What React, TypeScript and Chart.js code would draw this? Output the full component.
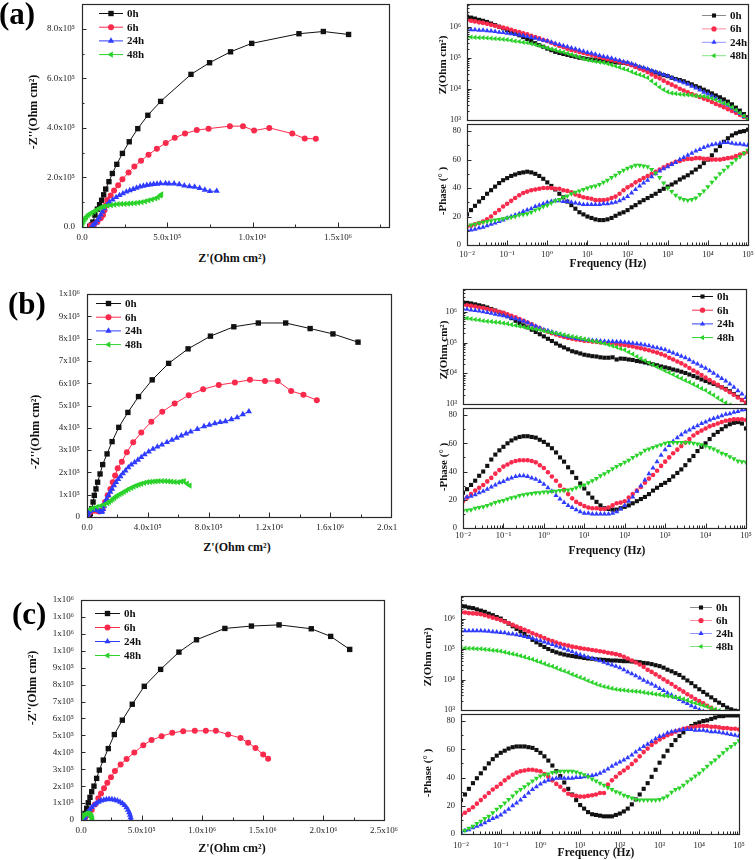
import React, { useEffect, useRef } from 'react';
import { Chart, registerables } from 'chart.js';
Chart.register(...registerables);

// ---------------- DATA ----------------
const FREQ = [
  0.01, 0.0126, 0.0158, 0.02, 0.0251, 0.0316, 0.0398, 0.0501, 0.0631, 0.0794,
  0.1, 0.126, 0.158, 0.2, 0.251, 0.316, 0.398, 0.501, 0.631, 0.794,
  1, 1.26, 1.58, 2, 2.51, 3.16, 3.98, 5.01, 6.31, 7.94,
  10, 12.6, 15.8, 20, 25.1, 31.6, 39.8, 50.1, 63.1, 79.4,
  100, 126, 158, 200, 251, 316, 398, 501, 631, 794,
  1000, 1260, 1580, 2000, 2510, 3160, 3980, 5010, 6310, 7940,
  10000, 12600, 15800, 20000, 25100, 31600, 39800, 50100, 63100, 79400,
  100000,
];

// (a) Bode |Z|
const A_Z_0h = [
  2.14e6, 2.0e6, 1.86e6, 1.7e6, 1.58e6, 1.45e6, 1.29e6, 1.15e6, 1.02e6, 9.1e5,
  7.9e5, 6.9e5, 6.0e5, 5.4e5, 4.7e5, 4.1e5, 3.5e5, 3.0e5, 2.6e5, 2.3e5,
  2.0e5, 1.78e5, 1.58e5, 1.45e5, 1.35e5, 1.26e5, 1.17e5, 1.1e5, 1.02e5, 9.8e4,
  9.3e4, 8.9e4, 8.5e4, 8.3e4, 7.9e4, 7.8e4, 7.6e4, 7.2e4, 7.1e4, 6.9e4,
  6.6e4, 6.0e4, 5.4e4, 4.9e4, 4.5e4, 4.1e4, 3.7e4, 3.4e4, 3.1e4, 2.8e4,
  2.6e4, 2.3e4, 2.1e4, 1.95e4, 1.78e4, 1.58e4, 1.41e4, 1.23e4, 1.1e4, 9.5e3,
  8.3e3, 7.2e3, 6.2e3, 5.4e3, 4.6e3, 3.9e3, 3.2e3, 2.5e3, 2.0e3, 1.55e3,
  1.23e3,
];
const A_Z_6h = [
  1.7e6, 1.58e6, 1.51e6, 1.41e6, 1.35e6, 1.26e6, 1.17e6, 1.1e6, 1.02e6, 9.5e5,
  8.9e5, 8.1e5, 7.4e5, 6.9e5, 6.3e5, 5.8e5, 5.2e5, 4.7e5, 4.3e5, 3.8e5,
  3.5e5, 3.1e5, 2.75e5, 2.45e5, 2.24e5, 2.0e5, 1.82e5, 1.7e5, 1.55e5, 1.45e5,
  1.35e5, 1.26e5, 1.15e5, 1.07e5, 1.0e5, 9.3e4, 8.7e4, 8.1e4, 7.6e4, 7.1e4,
  6.5e4, 5.8e4, 5.1e4, 4.5e4, 4.0e4, 3.5e4, 2.95e4, 2.5e4, 2.2e4, 1.86e4,
  1.58e4, 1.38e4, 1.2e4, 1.02e4, 8.9e3, 7.8e3, 6.9e3, 6.2e3, 5.5e3, 4.9e3,
  4.4e3, 3.8e3, 3.3e3, 2.95e3, 2.6e3, 2.24e3, 1.95e3, 1.7e3, 1.45e3, 1.26e3,
  1.1e3,
];
const A_Z_24h = [
  8.3e5, 8.1e5, 8.1e5, 7.9e5, 7.8e5, 7.6e5, 7.4e5, 7.1e5, 6.8e5, 6.6e5,
  6.3e5, 6.0e5, 5.8e5, 5.5e5, 5.2e5, 4.9e5, 4.6e5, 4.3e5, 4.0e5, 3.7e5,
  3.5e5, 3.2e5, 2.95e5, 2.7e5, 2.5e5, 2.3e5, 2.1e5, 1.95e5, 1.78e5, 1.66e5,
  1.51e5, 1.41e5, 1.32e5, 1.2e5, 1.12e5, 1.05e5, 9.8e4, 8.9e4, 8.3e4, 7.6e4,
  7.1e4, 6.5e4, 5.9e4, 5.2e4, 4.8e4, 4.4e4, 3.9e4, 3.5e4, 3.2e4, 2.9e4,
  2.6e4, 2.3e4, 2.0e4, 1.78e4, 1.58e4, 1.41e4, 1.23e4, 1.07e4, 9.3e3, 7.9e3,
  6.9e3, 5.9e3, 5.0e3, 4.2e3, 3.5e3, 3.0e3, 2.45e3, 2.0e3, 1.62e3, 1.29e3,
  1.05e3,
];
const A_Z_48h = [
  4.7e5, 4.7e5, 4.6e5, 4.5e5, 4.5e5, 4.4e5, 4.3e5, 4.2e5, 4.1e5, 4.0e5,
  3.9e5, 3.7e5, 3.5e5, 3.4e5, 3.2e5, 3.1e5, 2.9e5, 2.7e5, 2.5e5, 2.3e5,
  2.1e5, 1.95e5, 1.82e5, 1.66e5, 1.55e5, 1.41e5, 1.29e5, 1.17e5, 1.07e5, 9.5e4,
  8.7e4, 8.3e4, 7.8e4, 7.4e4, 7.1e4, 6.6e4, 6.0e4, 5.5e4, 5.0e4, 4.5e4,
  4.1e4, 3.6e4, 3.2e4, 2.9e4, 2.6e4, 2.3e4, 1.82e4, 1.45e4, 1.15e4, 9.5e3,
  8.1e3, 7.4e3, 7.1e3, 6.8e3, 6.6e3, 6.5e3, 6.3e3, 6.0e3, 5.9e3, 5.8e3,
  5.5e3, 5.0e3, 4.5e3, 4.0e3, 3.5e3, 3.2e3, 2.6e3, 2.1e3, 1.7e3, 1.35e3,
  1.1e3,
];
// (a) Bode phase
const A_P_0h = [
  21.5, 24.5, 27.5, 30.5, 33, 36, 38.5, 41, 43.5, 45.5,
  47, 48.5, 49.5, 50.5, 51, 51.5, 51, 50, 48.5, 46.5,
  44, 41.5, 39, 36, 33.5, 30.5, 28, 25.5, 23, 21.5,
  20, 19, 18, 17.5, 17.5, 18, 19, 20.5, 22, 23,
  24.5, 26.5, 28, 30, 31.5, 33, 34.5, 36, 38, 39.5,
  41, 42.5, 44, 46, 47.5, 49, 51, 53, 55, 57.5,
  60, 63, 66.5, 69.5, 72.5, 75, 77, 78.5, 79.5, 80,
  81,
];
const A_P_6h = [
  13, 13.5, 14.5, 15.5, 16.5, 18, 20, 22.5, 24.5, 27,
  29, 31, 33, 35, 36.5, 37.5, 38.5, 39, 39.5, 40,
  40, 40, 39.5, 39.5, 38.5, 38, 37, 35.5, 34.5, 33.5,
  33, 32.5, 31.5, 31.5, 31.5, 32, 33, 34, 36, 38.5,
  40.5, 42, 44, 45.5, 47, 48.5, 50, 51.5, 53, 54.5,
  56, 57, 58.5, 59, 60, 60.5, 60.5, 61, 61, 60.5,
  60.5, 60, 60, 60, 60.5, 61, 61.5, 62.5, 63.5, 64.5,
  65.5,
];
const A_P_24h = [
  10.5, 10.5, 11, 12, 12.5, 13.5, 14.5, 15.5, 16.5, 17.5,
  19, 20, 21, 22, 23.5, 24.5, 25.5, 27, 28, 29,
  30, 30.5, 31, 31, 30.5, 30.5, 30, 29.5, 29, 28.5,
  28.5, 28.5, 28.5, 28.5, 29, 29, 29.5, 30, 31, 32.5,
  34, 36.5, 39, 41.5, 43.5, 45.5, 48, 50, 52, 53.5,
  55, 56.5, 58, 60, 61.5, 63, 64.5, 66, 67, 68.5,
  69.5, 70.5, 71, 71.5, 72, 72, 71.5, 71, 71, 70.5,
  70,
];
const A_P_48h = [
  13, 14, 14.5, 15.5, 16, 16.5, 17, 17.5, 18, 18.5,
  19, 19.5, 20, 21, 21.5, 22, 23, 24.5, 25.5, 27,
  28, 29.5, 31, 32, 33.5, 34.5, 36, 37, 38, 39,
  40, 41, 41.5, 42.5, 44, 45.5, 47.5, 49, 51, 52.5,
  54, 55, 56, 56, 55.5, 55, 53, 50.5, 47.5, 43.5,
  40, 37.5, 35, 33, 32, 31.5, 32, 33, 35.5, 38,
  41, 44, 47, 50, 52.5, 55, 57.5, 60, 62, 64.5,
  66.5,
];

// (b) Bode |Z|
const B_Z_0h = [
  2.0e6, 1.95e6, 1.86e6, 1.74e6, 1.62e6, 1.51e6, 1.38e6, 1.23e6, 1.1e6, 9.8e5,
  8.7e5, 7.2e5, 6.2e5, 5.1e5, 4.3e5, 3.6e5, 3.1e5, 2.6e5, 2.2e5, 1.86e5,
  1.58e5, 1.32e5, 1.12e5, 9.3e4, 7.9e4, 6.9e4, 6.0e4, 5.2e4, 4.8e4, 4.4e4,
  4.0e4, 3.8e4, 3.6e4, 3.5e4, 3.3e4, 3.2e4, 3.2e4, 3.3e4, 2.8e4, 3.0e4,
  2.95e4, 2.8e4, 2.7e4, 2.5e4, 2.4e4, 2.24e4, 2.1e4, 1.95e4, 1.82e4, 1.66e4,
  1.55e4, 1.45e4, 1.32e4, 1.23e4, 1.12e4, 1.02e4, 9.1e3, 8.1e3, 7.2e3, 6.3e3,
  5.6e3, 5.0e3, 4.5e3, 4.0e3, 3.5e3, 3.1e3, 2.6e3, 2.1e3, 1.7e3, 1.35e3,
  1.07e3,
];
const B_Z_6h = [
  1.7e6, 1.62e6, 1.55e6, 1.48e6, 1.38e6, 1.32e6, 1.23e6, 1.15e6, 1.07e6, 1.0e6,
  9.3e5, 8.3e5, 7.4e5, 6.6e5, 5.8e5, 5.1e5, 4.5e5, 3.9e5, 3.3e5, 2.9e5,
  2.5e5, 2.24e5, 2.0e5, 1.82e5, 1.66e5, 1.51e5, 1.41e5, 1.32e5, 1.26e5, 1.2e5,
  1.15e5, 1.12e5, 1.07e5, 1.05e5, 1.0e5, 9.8e4, 9.5e4, 9.1e4, 8.9e4, 8.5e4,
  8.3e4, 7.8e4, 7.4e4, 6.9e4, 6.5e4, 6.0e4, 5.6e4, 5.1e4, 4.7e4, 4.2e4,
  3.8e4, 3.2e4, 2.8e4, 2.4e4, 2.1e4, 1.78e4, 1.48e4, 1.23e4, 1.05e4, 8.7e3,
  7.2e3, 6.0e3, 5.0e3, 4.2e3, 3.5e3, 2.9e3, 2.4e3, 2.0e3, 1.62e3, 1.35e3,
  1.12e3,
];
const B_Z_24h = [
  1.26e6, 1.2e6, 1.15e6, 1.1e6, 1.05e6, 1.0e6, 9.5e5, 8.9e5, 8.3e5, 7.9e5,
  7.4e5, 6.9e5, 6.3e5, 5.9e5, 5.4e5, 4.9e5, 4.4e5, 3.8e5, 3.4e5, 2.95e5,
  2.6e5, 2.4e5, 2.2e5, 2.0e5, 1.82e5, 1.66e5, 1.55e5, 1.45e5, 1.35e5, 1.29e5,
  1.23e5, 1.2e5, 1.17e5, 1.15e5, 1.12e5, 1.1e5, 1.07e5, 1.07e5, 1.05e5, 1.05e5,
  1.02e5, 9.8e4, 9.5e4, 9.1e4, 8.7e4, 8.3e4, 7.8e4, 7.2e4, 6.8e4, 6.3e4,
  5.8e4, 5.1e4, 4.6e4, 4.1e4, 3.6e4, 3.2e4, 2.75e4, 2.3e4, 2.0e4, 1.7e4,
  1.45e4, 1.2e4, 1.0e4, 8.1e3, 6.8e3, 5.6e3, 4.5e3, 3.5e3, 2.7e3, 2.1e3,
  1.62e3,
];
const B_Z_48h = [
  6.5e5, 6.2e5, 5.9e5, 5.6e5, 5.4e5, 5.1e5, 4.9e5, 4.8e5, 4.6e5, 4.5e5,
  4.3e5, 4.1e5, 3.8e5, 3.6e5, 3.4e5, 3.2e5, 3.0e5, 2.9e5, 2.7e5, 2.6e5,
  2.4e5, 2.24e5, 2.1e5, 2.0e5, 1.9e5, 1.78e5, 1.66e5, 1.55e5, 1.48e5, 1.38e5,
  1.29e5, 1.2e5, 1.12e5, 1.07e5, 1.0e5, 9.3e4, 8.5e4, 7.8e4, 7.1e4, 6.3e4,
  5.8e4, 4.9e4, 4.2e4, 3.5e4, 3.0e4, 2.6e4, 2.2e4, 1.9e4, 1.62e4, 1.41e4,
  1.2e4, 1.05e4, 9.1e3, 7.8e3, 6.8e3, 5.9e3, 5.1e3, 4.4e3, 3.8e3, 3.2e3,
  2.8e3, 2.3e3, 1.95e3, 1.58e3, 1.32e3, 1.1e3, 930, 790, 690, 590,
  500,
];
// (b) Bode phase
const B_P_0h = [
  25, 27.5, 30.5, 33.5, 37, 40, 44, 48.5, 52, 55,
  57.5, 60, 62, 63.5, 64.5, 65, 65, 64.5, 64, 62.5,
  61, 59, 56.5, 53.5, 50, 47, 43, 39.5, 35.5, 31.5,
  28, 24.5, 21.5, 18.5, 16, 14, 13.5, 13, 13, 14,
  15, 16, 17.5, 19, 20.5, 22, 24, 26.5, 28.5, 30.5,
  32, 34, 36.5, 39, 41.5, 44.5, 48, 51, 54.5, 57.5,
  60, 63, 66, 68, 70, 72, 73.5, 74.5, 75, 74,
  70.5,
];
const B_P_6h = [
  19, 21.5, 24, 26.5, 28.5, 30.5, 33, 35.5, 38.5, 41,
  43.5, 45, 46.5, 47.5, 48, 48, 48, 47.5, 46.5, 44.5,
  42.5, 39.5, 36.5, 33.5, 30, 27, 24, 21, 18.5, 17,
  15.5, 14.5, 14, 14, 13.5, 13.5, 14.5, 16, 17.5, 18,
  19, 21.5, 24, 26.5, 29, 32, 35, 37.5, 40.5, 44,
  47, 50, 53, 55.5, 58, 60.5, 63, 65.5, 67.5, 69,
  70.5, 72, 73, 74, 75, 76, 76.5, 77, 77, 77,
  76.5,
];
const B_P_24h = [
  21, 22, 22.5, 23.5, 25, 26, 27.5, 29, 30.5, 32,
  33, 34.5, 35.5, 36.5, 37, 37, 36.5, 35.5, 34.5, 33,
  31, 28.5, 26, 23, 20.5, 18, 16, 14.5, 13, 11.5,
  10.5, 10.5, 10, 10, 10, 10, 10, 10.5, 11.5, 13.5,
  16, 19, 22, 26, 30, 34, 38.5, 42.5, 47, 51.5,
  55.5, 58.5, 61.5, 64, 66, 68, 69.5, 71, 72.5, 74,
  75, 76.5, 77.5, 78.5, 79.5, 80.5, 81, 82, 82.5, 83.5,
  84,
];
const B_P_48h = [
  12, 12.5, 13, 14, 14.5, 15, 16, 17, 18, 19,
  19.5, 20.5, 21.5, 22, 23, 23.5, 24, 24.5, 25, 25,
  25.5, 25.5, 26, 26, 26.5, 26.5, 27, 27.5, 28.5, 29.5,
  30.5, 32, 33.5, 35, 37, 38.5, 40, 42, 43.5, 45,
  46.5, 48, 50, 51.5, 53, 55, 56, 57, 58, 59,
  60, 60.5, 60.5, 60.5, 60.5, 60.5, 60.5, 60, 59.5, 59,
  58, 57, 56, 54.5, 53, 52, 50.5, 49, 47.5, 47,
  46.5,
];

// (c) Bode |Z|
const C_Z_0h = [
  2.6e6, 2.5e6, 2.3e6, 2.2e6, 2.0e6, 1.82e6, 1.66e6, 1.45e6, 1.29e6, 1.12e6,
  1.0e6, 8.3e5, 6.8e5, 5.6e5, 4.6e5, 3.8e5, 3.1e5, 2.5e5, 2.0e5, 1.66e5,
  1.38e5, 1.17e5, 1.0e5, 8.7e4, 7.8e4, 7.1e4, 6.6e4, 6.2e4, 5.9e4, 5.6e4,
  5.4e4, 5.1e4, 4.9e4, 4.8e4, 4.6e4, 4.5e4, 4.4e4, 4.3e4, 4.2e4, 4.2e4,
  4.1e4, 4.0e4, 4.0e4, 3.9e4, 3.8e4, 3.7e4, 3.5e4, 3.4e4, 3.2e4, 2.95e4,
  2.75e4, 2.45e4, 2.1e4, 1.86e4, 1.62e4, 1.41e4, 1.15e4, 9.3e3, 7.6e3, 6.0e3,
  4.8e3, 3.9e3, 3.2e3, 2.6e3, 2.1e3, 1.74e3, 1.45e3, 1.2e3, 1.05e3, 950,
  910,
];
const C_Z_6h = [
  1.62e6, 1.58e6, 1.51e6, 1.48e6, 1.45e6, 1.38e6, 1.29e6, 1.17e6, 1.07e6, 9.8e5,
  8.9e5, 7.9e5, 7.1e5, 6.2e5, 5.5e5, 4.9e5, 4.3e5, 3.8e5, 3.3e5, 2.95e5,
  2.6e5, 2.3e5, 2.0e5, 1.82e5, 1.62e5, 1.48e5, 1.38e5, 1.29e5, 1.2e5, 1.15e5,
  1.07e5, 1.02e5, 9.8e4, 9.3e4, 8.9e4, 8.5e4, 8.1e4, 7.6e4, 7.2e4, 6.8e4,
  6.3e4, 5.6e4, 4.9e4, 4.2e4, 3.6e4, 3.1e4, 2.6e4, 2.1e4, 1.78e4, 1.48e4,
  1.23e4, 1.02e4, 8.5e3, 7.1e3, 5.8e3, 4.8e3, 4.0e3, 3.3e3, 2.75e3, 2.3e3,
  1.95e3, 1.66e3, 1.38e3, 1.17e3, 1.0e3, 850, 720, 610, 520, 440,
  370,
];
const C_Z_24h = [
  4.0e5, 4.0e5, 4.0e5, 4.0e5, 4.0e5, 4.0e5, 3.9e5, 3.8e5, 3.7e5, 3.6e5,
  3.5e5, 3.4e5, 3.2e5, 3.1e5, 2.95e5, 2.8e5, 2.6e5, 2.4e5, 2.24e5, 2.0e5,
  1.86e5, 1.7e5, 1.55e5, 1.41e5, 1.26e5, 1.15e5, 1.02e5, 9.1e4, 8.1e4, 7.2e4,
  6.5e4, 5.9e4, 5.4e4, 4.9e4, 4.5e4, 4.1e4, 3.7e4, 3.3e4, 3.0e4, 2.7e4,
  2.45e4, 2.1e4, 1.78e4, 1.55e4, 1.32e4, 1.12e4, 9.5e3, 8.1e3, 7.1e3, 6.0e3,
  5.1e3, 4.4e3, 3.6e3, 3.1e3, 2.6e3, 2.2e3, 1.86e3, 1.62e3, 1.38e3, 1.2e3,
  1.02e3, 890, 780, 680, 590, 510, 450, 390, 340, 300,
  260,
];
const C_Z_48h = [
  1.07e5, 1.07e5, 1.05e5, 1.05e5, 1.02e5, 1.02e5, 9.8e4, 9.5e4, 9.1e4, 8.9e4,
  8.5e4, 7.9e4, 7.4e4, 6.9e4, 6.5e4, 6.0e4, 5.5e4, 5.0e4, 4.6e4, 4.1e4,
  3.7e4, 3.3e4, 2.95e4, 2.7e4, 2.4e4, 2.1e4, 1.9e4, 1.7e4, 1.48e4, 1.32e4,
  1.17e4, 1.05e4, 9.1e3, 8.1e3, 7.2e3, 6.5e3, 5.9e3, 5.5e3, 5.1e3, 4.8e3,
  4.6e3, 4.5e3, 4.3e3, 4.2e3, 4.1e3, 4.0e3, 3.8e3, 3.6e3, 3.5e3, 3.3e3,
  3.2e3, 3.0e3, 2.9e3, 2.75e3, 2.6e3, 2.5e3, 2.3e3, 2.1e3, 1.86e3, 1.7e3,
  1.55e3, 1.41e3, 1.29e3, 1.15e3, 1.05e3, 950, 870, 790, 720, 650,
  590,
];
// (c) Bode phase
const C_P_0h = [
  24, 28, 32, 36, 39.5, 43, 46.5, 50, 53, 55.5,
  57.5, 59, 60.5, 61.5, 62, 62, 62, 61.5, 61, 59.5,
  57.5, 55, 52, 48.5, 44.5, 41, 36.5, 32, 28, 24,
  20.5, 18, 15.5, 14, 13.5, 13, 12.5, 12.5, 12.5, 13.5,
  14.5, 16, 18, 21, 24.5, 28, 32, 36, 40.5, 45.5,
  50.5, 55, 59, 63, 66.5, 69.5, 72, 74.5, 76.5, 78,
  79, 80, 80.5, 81.5, 82.5, 83.5, 83.5, 84, 84, 84,
  84,
];
const C_P_6h = [
  13.5, 15, 17, 19, 21.5, 24, 26.5, 29, 31.5, 33.5,
  35.5, 38, 40, 42, 43.5, 44.5, 45, 45.5, 45.5, 45,
  44.5, 42.5, 40.5, 38, 35.5, 33.5, 31, 28.5, 27.5, 27,
  26.5, 26.5, 27, 27.5, 28, 29, 29, 35, 38, 40.5,
  43, 45, 47, 49.5, 52, 55, 58, 60.5, 63, 65,
  67, 68.5, 70, 71, 72.5, 73.5, 74.5, 75, 75.5, 76,
  76.5, 76.5, 76.5, 76, 76, 75.5, 75, 75, 74.5, 74.5,
  74,
];
const C_P_24h = [
  1.5, 2.5, 3, 4.5, 5.5, 6.5, 8, 9.5, 11, 12,
  13.5, 15.5, 17.5, 20, 22, 24, 26.5, 29, 31.5, 33.5,
  35.5, 37, 38, 39, 39.5, 39.5, 39.5, 39.5, 39.5, 40,
  40, 40.5, 41, 41.5, 42, 43, 44.5, 46, 48, 49.5,
  51, 52.5, 54, 56, 58, 60, 62, 63.5, 65.5, 67.5,
  69, 70, 71.5, 72.5, 73, 73.5, 74, 74, 74, 73.5,
  73.5, 73.5, 73, 72.5, 72.5, 72, 71.5, 71, 70.5, 70,
  69.5,
];
const C_P_48h = [
  1.5, 2.5, 4, 5.5, 7.5, 9, 11, 12.5, 15, 17.5,
  19.5, 22, 24.5, 27, 29.5, 31.5, 33.5, 35.5, 37.5, 39.5,
  41, 42, 42.5, 43.5, 44, 44.5, 44.5, 44.5, 44.5, 44,
  43, 42, 40.5, 39, 37.5, 36, 34.5, 33, 31.5, 30,
  29, 27.5, 26.5, 25.5, 24.5, 24, 24, 24, 24, 24,
  24.5, 25.5, 27, 29.5, 31.5, 32.5, 34.5, 37, 39, 41,
  43, 45.5, 48, 50.5, 52.5, 55, 57.5, 60, 62, 64,
  66,
];

// Nyquist (a)
const A_NQ_0h_RE = [45e3, 55e3, 64e3, 76e3, 90e3, 103e3, 115e3, 127e3, 139e3, 158e3, 178e3, 204e3, 237e3, 277e3, 327e3, 386e3, 461e3, 639e3, 748e3, 871e3, 995e3, 1272e3, 1415e3, 1563e3];
const A_NQ_0h_IM = [3e3, 8e3, 20e3, 48e3, 72e3, 90e3, 108e3, 130e3, 153e3, 183e3, 216e3, 253e3, 297e3, 344e3, 397e3, 451e3, 507e3, 616e3, 663e3, 707e3, 741e3, 780e3, 789e3, 777e3];
const A_NQ_6h_RE = [50e3, 70e3, 90e3, 110e3, 123e3, 132e3, 140e3, 148e3, 168e3, 188e3, 212e3, 237e3, 273e3, 307e3, 346e3, 390e3, 439e3, 491e3, 544e3, 604e3, 673e3, 742e3, 867e3, 944e3, 1009e3, 1098e3, 1233e3, 1306e3, 1371e3];
const A_NQ_6h_IM = [5e3, 10e3, 20e3, 35e3, 48e3, 68e3, 88e3, 109e3, 127e3, 147e3, 169e3, 193e3, 220e3, 244e3, 267e3, 292e3, 316e3, 339e3, 360e3, 377e3, 391e3, 397e3, 407e3, 407e3, 389e3, 400e3, 377e3, 357e3, 356e3];
const A_NQ_24h_RE = [60e3, 70e3, 80e3, 90e3, 100e3, 110e3, 120e3, 130e3, 145e3, 160e3, 180e3, 200e3, 220e3, 240e3, 260e3, 280e3, 300e3, 320e3, 340e3, 360e3, 380e3, 400e3, 420e3, 440e3, 460e3, 490e3, 510e3, 540e3, 570e3, 600e3, 630e3, 660e3, 690e3, 720e3, 750e3, 790e3];
const A_NQ_24h_IM = [5e3, 10e3, 17e3, 27e3, 38e3, 50e3, 62e3, 75e3, 88e3, 100e3, 110e3, 120e3, 128e3, 135e3, 142e3, 148e3, 153e3, 158e3, 163e3, 166e3, 169e3, 171e3, 173e3, 174e3, 176e3, 176e3, 175e3, 175e3, 172e3, 167e3, 164e3, 162e3, 157e3, 150e3, 144e3, 145e3];
const A_NQ_48h_RE = [0, 5e3, 10e3, 17e3, 25e3, 35e3, 45e3, 57e3, 70e3, 85e3, 100e3, 115e3, 130e3, 150e3, 170e3, 190e3, 210e3, 230e3, 250e3, 270e3, 290e3, 310e3, 330e3, 350e3, 370e3, 390e3, 410e3, 430e3, 445e3, 460e3, 465e3];
const A_NQ_48h_IM = [10e3, 18e3, 25e3, 33e3, 40e3, 47e3, 53e3, 58e3, 63e3, 69e3, 75e3, 80e3, 83e3, 86e3, 88e3, 90e3, 92e3, 93e3, 93e3, 94e3, 95e3, 96e3, 98e3, 100e3, 103e3, 107e3, 111e3, 115e3, 120e3, 127e3, 132e3];

// Nyquist (b)
const B_NQ_0h_RE = [15e3, 22e3, 31e3, 40e3, 48e3, 59e3, 70e3, 86e3, 103e3, 132e3, 165e3, 209e3, 269e3, 339e3, 429e3, 537e3, 665e3, 812e3, 966e3, 1127e3, 1307e3, 1468e3, 1618e3, 1783e3];
const B_NQ_0h_IM = [0, 15e3, 37e3, 67e3, 97e3, 126e3, 156e3, 193e3, 235e3, 283e3, 338e3, 402e3, 469e3, 540e3, 615e3, 689e3, 754e3, 811e3, 853e3, 870e3, 870e3, 845e3, 821e3, 784e3];
const B_NQ_6h_RE = [5e3, 20e3, 40e3, 60e3, 80e3, 95e3, 103e3, 119e3, 136e3, 154e3, 169e3, 185e3, 202e3, 229e3, 262e3, 304e3, 357e3, 423e3, 495e3, 577e3, 669e3, 764e3, 867e3, 973e3, 1072e3, 1171e3, 1255e3, 1343e3, 1424e3, 1512e3];
const B_NQ_6h_IM = [10e3, 22e3, 28e3, 28e3, 25e3, 28e3, 37e3, 67e3, 97e3, 126e3, 156e3, 186e3, 219e3, 248e3, 290e3, 335e3, 379e3, 427e3, 472e3, 509e3, 546e3, 573e3, 592e3, 603e3, 615e3, 610e3, 610e3, 565e3, 548e3, 524e3];
const B_NQ_24h_RE = [2e3, 6e3, 11e3, 18e3, 26e3, 36e3, 48e3, 60e3, 72e3, 83e3, 92e3, 100e3, 106e3, 113e3, 120e3, 130e3, 141e3, 153e3, 165e3, 178e3, 191e3, 205e3, 220e3, 236e3, 253e3, 272e3, 291e3, 313e3, 335e3, 357e3, 379e3, 406e3, 434e3, 463e3, 493e3, 526e3, 559e3, 590e3, 621e3, 652e3, 682e3, 726e3, 770e3, 805e3, 841e3, 876e3, 911e3, 950e3, 988e3, 1025e3, 1065e3];
const B_NQ_24h_IM = [3e3, 12e3, 20e3, 26e3, 30e3, 32e3, 33e3, 32e3, 30e3, 26e3, 22e3, 24e3, 35e3, 50e3, 65e3, 82e3, 97e3, 112e3, 126e3, 141e3, 156e3, 169e3, 182e3, 195e3, 208e3, 222e3, 234e3, 245e3, 256e3, 268e3, 280e3, 293e3, 305e3, 315e3, 324e3, 335e3, 345e3, 355e3, 365e3, 374e3, 382e3, 394e3, 406e3, 413e3, 420e3, 425e3, 429e3, 438e3, 446e3, 460e3, 473e3];
const B_NQ_48h_RE = [20e3, 40e3, 65e3, 90e3, 115e3, 135e3, 147e3, 158e3, 169e3, 180e3, 191e3, 202e3, 215e3, 229e3, 243e3, 258e3, 274e3, 291e3, 307e3, 324e3, 340e3, 357e3, 376e3, 396e3, 415e3, 434e3, 452e3, 471e3, 493e3, 515e3, 535e3, 555e3, 577e3, 599e3, 620e3, 638e3, 658e3, 676e3];
const B_NQ_48h_IM = [35e3, 40e3, 45e3, 50e3, 56e3, 62e3, 68e3, 74e3, 80e3, 86e3, 92e3, 97e3, 102e3, 107e3, 113e3, 119e3, 125e3, 131e3, 136e3, 141e3, 145e3, 149e3, 153e3, 156e3, 158e3, 159e3, 160e3, 161e3, 161e3, 161e3, 160e3, 159e3, 157e3, 156e3, 159e3, 161e3, 150e3, 141e3];

// Nyquist (c)
const C_NQ_0h_RE = [12e3, 19e3, 33e3, 47e3, 60e3, 74e3, 88e3, 107e3, 129e3, 151e3, 184e3, 225e3, 275e3, 341e3, 423e3, 522e3, 657e3, 808e3, 953e3, 1187e3, 1406e3, 1634e3, 1900e3, 2060e3, 2217e3];
const C_NQ_0h_IM = [5e3, 16e3, 39e3, 69e3, 102e3, 134e3, 167e3, 200e3, 246e3, 295e3, 354e3, 422e3, 505e3, 590e3, 684e3, 790e3, 890e3, 992e3, 1065e3, 1132e3, 1146e3, 1153e3, 1130e3, 1085e3, 1008e3];
const C_NQ_6h_RE = [10e3, 33e3, 60e3, 88e3, 115e3, 143e3, 165e3, 190e3, 217e3, 247e3, 280e3, 327e3, 376e3, 440e3, 514e3, 582e3, 665e3, 753e3, 843e3, 939e3, 1030e3, 1113e3, 1214e3, 1316e3, 1379e3, 1440e3, 1503e3, 1544e3];
const C_NQ_6h_IM = [5e3, 10e3, 29e3, 59e3, 92e3, 128e3, 157e3, 187e3, 220e3, 252e3, 289e3, 328e3, 360e3, 399e3, 442e3, 472e3, 495e3, 515e3, 525e3, 527e3, 527e3, 527e3, 505e3, 485e3, 456e3, 426e3, 387e3, 362e3];
const C_NQ_24h_RE = [20e3, 24e3, 30e3, 38e3, 48e3, 60e3, 73e3, 89e3, 106e3, 125e3, 145e3, 166e3, 188e3, 210e3, 232e3, 255e3, 278e3, 300e3, 322e3, 342e3, 360e3, 375e3, 388e3, 398e3, 405e3, 410e3, 412e3];
const C_NQ_24h_IM = [4e3, 10e3, 17e3, 26e3, 37e3, 49e3, 62e3, 75e3, 87e3, 98e3, 107e3, 114e3, 119e3, 122e3, 123e3, 122e3, 119e3, 114e3, 107e3, 98e3, 87e3, 74e3, 60e3, 45e3, 30e3, 15e3, 0];
const C_NQ_48h_RE = [0, 5e3, 12e3, 20e3, 30e3, 40e3, 50e3, 60e3, 70e3, 78e3, 85e3, 90e3, 93e3, 95e3];
const C_NQ_48h_IM = [0, 12e3, 22e3, 29e3, 34e3, 37e3, 38e3, 38e3, 35e3, 30e3, 23e3, 15e3, 7e3, 0];

// Tick values
const A_NQ_XTICKS = [0, 5e5, 1e6, 1.5e6];
const A_NQ_YTICKS = [0, 2e5, 4e5, 6e5, 8e5];
const B_NQ_XTICKS = [0, 4e5, 8e5, 1.2e6, 1.6e6, 2e6];
const B_NQ_YTICKS = [0, 1e5, 2e5, 3e5, 4e5, 5e5, 6e5, 7e5, 8e5, 9e5, 1e6];
const C_NQ_XTICKS = [0, 5e5, 1e6, 1.5e6, 2e6, 2.5e6];
const C_NQ_YTICKS = [0, 1e5, 2e5, 3e5, 4e5, 5e5, 6e5, 7e5, 8e5, 9e5, 1e6, 1.1e6, 1.2e6, 1.3e6];
const PHASE_TICKS = [0, 20, 40, 60, 80];
const SERIES_LABELS = ['0h', '6h', '24h', '48h'];

// ---------------- STYLE / HELPERS ----------------
const FONT = '"Liberation Serif", "Times New Roman", "DejaVu Serif", serif';
const AXIS = '#2a2a2a';
const BLACK = '#111111';
const RED = '#fa2a4c';
const BLUE = '#2f3cff';
const GREEN = '#2ad22a';
const COLORS = [BLACK, RED, BLUE, GREEN];
const STYLES = ['rect', 'circle', 'triangle', 'triangle'];
const ROT_Z = [0, 0, 0, -90];
const ROT_P = [0, 0, 0, 180];

const SUP: Record<string, string> = { '0': '⁰', '1': '¹', '2': '²', '3': '³', '4': '⁴', '5': '⁵', '6': '⁶', '7': '⁷', '8': '⁸', '9': '⁹', '-': '⁻' };
const sup = (n: number) => String(n).split('').map((c) => SUP[c] || c).join('');
const isPow10 = (v: number) => { const l = Math.log10(v); return Math.abs(l - Math.round(l)) < 1e-6; };
const logLabel = (v: number) => (isPow10(v) ? '10' + sup(Math.round(Math.log10(v))) : '');
const sci1 = (v: number) => {
  if (v === 0) return '0.0';
  const e = Math.floor(Math.log10(v) + 1e-9);
  return (v / Math.pow(10, e)).toFixed(1) + 'x10' + sup(e);
};
const sci0 = (v: number) => {
  if (v === 0) return '0';
  const e = Math.floor(Math.log10(v) + 1e-9);
  return Math.round(v / Math.pow(10, e)) + 'x10' + sup(e);
};
const logTicks = (min: number, max: number) => {
  const out: number[] = [];
  for (let e = Math.floor(Math.log10(min)); e <= Math.ceil(Math.log10(max)); e++) {
    for (let m = 1; m < 10; m++) {
      const v = m * Math.pow(10, e);
      if (v >= min * 0.999 && v <= max * 1.001) out.push(v);
    }
  }
  return out;
};

function drawMarker(ctx: any, style: string, x: number, y: number, r: number, rot: number, color: string) {
  ctx.fillStyle = color;
  ctx.beginPath();
  if (style === 'rect') {
    const s = r * Math.SQRT2;
    ctx.rect(x - s / 2, y - s / 2, s, s);
  } else if (style === 'circle') {
    ctx.arc(x, y, r, 0, Math.PI * 2);
  } else {
    let rad = (rot * Math.PI) / 180;
    ctx.moveTo(x + Math.sin(rad) * r, y - Math.cos(rad) * r);
    rad += (2 * Math.PI) / 3;
    ctx.lineTo(x + Math.sin(rad) * r, y - Math.cos(rad) * r);
    rad += (2 * Math.PI) / 3;
    ctx.lineTo(x + Math.sin(rad) * r, y - Math.cos(rad) * r);
    ctx.closePath();
  }
  ctx.fill();
}

const framePlugin = {
  id: 'frame',
  afterDatasetsDraw(chart: any, _a: any, o: any) {
    const ctx = chart.ctx;
    const a = chart.chartArea;
    ctx.save();
    ctx.strokeStyle = AXIS;
    ctx.lineWidth = 1;
    const marks = (scale: any, horiz: boolean, minorMid: boolean) => {
      const vals: number[] = scale.ticks.map((t: any) => t.value);
      const isLog = scale.type === 'logarithmic';
      const list: number[][] = [];
      vals.forEach((v) => list.push([v, isLog && !isPow10(v) ? 2.5 : 4.5]));
      if (!isLog && minorMid && vals.length > 1) {
        const step = vals[1] - vals[0];
        for (let v = vals[0] + step / 2; v <= scale.max + 1e-9; v += step) list.push([v, 2.5]);
      }
      ctx.beginPath();
      list.forEach(([v, len]) => {
        const p = Math.round(scale.getPixelForValue(v)) + 0.5;
        if (horiz) { ctx.moveTo(p, a.bottom); ctx.lineTo(p, a.bottom - len); }
        else { ctx.moveTo(a.left, p); ctx.lineTo(a.left + len, p); }
      });
      ctx.stroke();
    };
    if (o.xMarks !== false) marks(chart.scales.x, true, !!o.xMinor);
    marks(chart.scales.y, false, !!o.yMinor);
    ctx.lineWidth = 1.2;
    ctx.strokeRect(Math.round(a.left) + 0.5, Math.round(a.top) + 0.5, Math.round(a.right - a.left), Math.round(a.bottom - a.top));
    const L = o.legend;
    if (L) {
      SERIES_LABELS.forEach((lab, i) => {
        const y = L.y + i * L.dy;
        ctx.strokeStyle = L.lines[i];
        ctx.lineWidth = 1;
        ctx.beginPath();
        ctx.moveTo(L.x, y + 0.5);
        ctx.lineTo(L.x + L.len, y + 0.5);
        ctx.stroke();
        drawMarker(ctx, STYLES[i], L.x + L.len / 2, y + 0.5, L.r[i], ROT_Z[i], COLORS[i]);
        ctx.fillStyle = '#111';
        ctx.font = `bold ${L.fs}px ${FONT}`;
        ctx.textBaseline = 'middle';
        ctx.textAlign = 'left';
        ctx.fillText(lab, L.x + L.len + 4, y + 1);
      });
    }
    ctx.restore();
  },
};

type Axis = { type: string; min: number; max: number; vals: number[]; fmt: (v: number) => string; fs: number; pad: number; show?: boolean };

function scaleCfg(ax: Axis, isX: boolean, size: number) {
  return {
    type: ax.type,
    min: ax.min,
    max: ax.max,
    bounds: 'data',
    position: isX ? 'bottom' : 'left',
    grid: { display: false, drawTicks: false },
    border: { display: false },
    ticks: {
      display: ax.show !== false,
      autoSkip: false,
      maxRotation: 0,
      minRotation: 0,
      padding: ax.pad,
      color: '#1c1c1c',
      font: { family: FONT, size: ax.fs },
      callback: (v: any) => ax.fmt(Number(v)),
    },
    afterBuildTicks: (s: any) => { s.ticks = ax.vals.map((v) => ({ value: v })); },
    afterFit: (s: any) => {
      if (isX) s.height = size; else s.width = size;
      s.paddingLeft = 0; s.paddingRight = 0; s.paddingTop = 0; s.paddingBottom = 0;
    },
  };
}

type Area = { L: number; T: number; R: number; B: number };

function ChartBox(props: { area: Area; yw: number; xh: number; pt: number; pr: number; datasets: any[]; x: Axis; y: Axis; frame: any }) {
  const ref = useRef<HTMLCanvasElement>(null);
  const { area, yw, xh, pt, pr } = props;
  const left = area.L - yw;
  const top = area.T - pt;
  const width = area.R - area.L + yw + pr;
  const height = area.B - area.T + pt + xh;
  useEffect(() => {
    const frame = { ...props.frame };
    if (frame.legend) frame.legend = { ...frame.legend, x: frame.legend.x - left, y: frame.legend.y - top };
    const chart = new Chart(ref.current as any, {
      type: 'scatter',
      data: { datasets: props.datasets },
      options: {
        responsive: false,
        animation: false,
        devicePixelRatio: 1,
        events: [],
        layout: { padding: { top: pt, right: pr, left: 0, bottom: 0 } },
        plugins: { legend: { display: false }, tooltip: { enabled: false }, frame } as any,
        scales: { x: scaleCfg(props.x, true, xh), y: scaleCfg(props.y, false, yw) } as any,
      },
      plugins: [framePlugin as any],
    } as any);
    return () => chart.destroy();
  }, []);
  return <canvas ref={ref} width={width} height={height} style={{ position: 'absolute', left, top, width, height }} />;
}

const NQ_R = [3.8, 3, 3.6, 3.6];
const BD_R = [2.9, 2.3, 3, 3];

function nqSets(re: number[][], im: number[][]) {
  return re.map((xs, i) => ({
    data: xs.map((x, j) => ({ x, y: im[i][j] })),
    showLine: true,
    borderColor: COLORS[i],
    borderWidth: 1,
    tension: 0,
    pointStyle: STYLES[i],
    pointRotation: ROT_Z[i],
    pointRadius: NQ_R[i],
    pointBackgroundColor: COLORS[i],
    pointBorderColor: COLORS[i],
    pointBorderWidth: 0,
    order: 3 - i,
  }));
}
function bodeSets(series: number[][], rots: number[]) {
  return series.map((ys, i) => ({
    data: FREQ.map((f, j) => ({ x: f, y: ys[j] })),
    showLine: false,
    pointStyle: STYLES[i],
    pointRotation: rots[i],
    pointRadius: BD_R[i],
    pointBackgroundColor: COLORS[i],
    pointBorderColor: COLORS[i],
    pointBorderWidth: 0,
    order: 3 - i,
  }));
}

const LIGHT_LINES = ['#8a8a8a', '#ff8a9c', '#8f98ff', '#86e486'];
const FULL_LINES = [BLACK, RED, BLUE, GREEN];

function Nyquist(p: { area: Area; pr: number; re: number[][]; im: number[][]; xmax: number; ymax: number; xt: number[]; yt: number[]; yfmt: (v: number) => string; yMinor: boolean; legend: any }) {
  return (
    <ChartBox
      area={p.area} yw={60} xh={22} pt={3} pr={p.pr}
      datasets={nqSets(p.re, p.im)}
      x={{ type: 'linear', min: 0, max: p.xmax, vals: p.xt, fmt: sci1, fs: 9, pad: 5 }}
      y={{ type: 'linear', min: 0, max: p.ymax, vals: p.yt, fmt: p.yfmt, fs: 9, pad: 7 }}
      frame={{ xMinor: true, yMinor: p.yMinor, legend: { ...p.legend, r: NQ_R, fs: 11 } }}
    />
  );
}

function Bode(p: { z: Area; ph: Area; zs: number[][]; ps: number[][]; xpad: number; legend: any }) {
  const xLog: Axis = { type: 'logarithmic', min: 0.01, max: 1e5, vals: logTicks(0.01, 1e5), fmt: logLabel, fs: 8.5, pad: p.xpad };
  const prP = 756 - p.ph.R;
  return (
    <>
      <ChartBox
        area={p.z} yw={40} xh={0} pt={3} pr={4}
        datasets={bodeSets(p.zs, ROT_Z)}
        x={{ ...xLog, show: false }}
        y={{ type: 'logarithmic', min: 1e3, max: 5.5e6, vals: logTicks(1e3, 5.5e6), fmt: logLabel, fs: 8.5, pad: 6 }}
        frame={{ xMarks: false, legend: { ...p.legend, r: [2.9, 2.6, 3, 3], fs: 11 } }}
      />
      <ChartBox
        area={p.ph} yw={40} xh={20} pt={4} pr={prP}
        datasets={bodeSets(p.ps, ROT_P)}
        x={xLog}
        y={{ type: 'linear', min: 0, max: 85, vals: PHASE_TICKS, fmt: (v) => String(v), fs: 8.5, pad: 6 }}
        frame={{ yMinor: true }}
      />
    </>
  );
}

function Txt(p: { x: number; y: number; t: string; fs: number; rot?: boolean }) {
  return (
    <div
      style={{
        position: 'absolute', left: p.x, top: p.y, whiteSpace: 'nowrap',
        transform: `translate(-50%, -50%)${p.rot ? ' rotate(-90deg)' : ''}`,
        fontFamily: FONT, fontWeight: 'bold', fontSize: p.fs, lineHeight: 1, color: '#111',
      }}
    >
      {p.t}
    </div>
  );
}
function PanelLabel(p: { x: number; y: number; t: string }) {
  return (
    <div style={{ position: 'absolute', left: p.x, top: p.y, fontFamily: FONT, fontWeight: 'bold', fontSize: 31, lineHeight: 1, color: '#000' }}>
      {p.t}
    </div>
  );
}

export default function App() {
  const NQ_Y = "-Z''(Ohm cm²)";
  const NQ_X = "Z'(Ohm cm²)";
  return (
    <div style={{ position: 'absolute', left: 0, top: 0, width: 756, height: 860, background: '#fff', overflow: 'hidden' }}>
      <Nyquist
        area={{ L: 82, T: 3, R: 389, B: 227 }} pr={4}
        re={[A_NQ_0h_RE, A_NQ_6h_RE, A_NQ_24h_RE, A_NQ_48h_RE]}
        im={[A_NQ_0h_IM, A_NQ_6h_IM, A_NQ_24h_IM, A_NQ_48h_IM]}
        xmax={1.8e6} ymax={9e5} xt={A_NQ_XTICKS} yt={A_NQ_YTICKS} yfmt={sci1} yMinor={true}
        legend={{ x: 99, y: 13, dy: 13.7, len: 24, lines: FULL_LINES }}
      />
      <Nyquist
        area={{ L: 87, T: 293, R: 391, B: 517 }} pr={6}
        re={[B_NQ_0h_RE, B_NQ_6h_RE, B_NQ_24h_RE, B_NQ_48h_RE]}
        im={[B_NQ_0h_IM, B_NQ_6h_IM, B_NQ_24h_IM, B_NQ_48h_IM]}
        xmax={2e6} ymax={1e6} xt={B_NQ_XTICKS} yt={B_NQ_YTICKS} yfmt={sci0} yMinor={false}
        legend={{ x: 96, y: 303, dy: 13.7, len: 25, lines: FULL_LINES }}
      />
      <Nyquist
        area={{ L: 81, T: 599, R: 384, B: 820 }} pr={16}
        re={[C_NQ_0h_RE, C_NQ_6h_RE, C_NQ_24h_RE, C_NQ_48h_RE]}
        im={[C_NQ_0h_IM, C_NQ_6h_IM, C_NQ_24h_IM, C_NQ_48h_IM]}
        xmax={2.5e6} ymax={1.3e6} xt={C_NQ_XTICKS} yt={C_NQ_YTICKS} yfmt={sci0} yMinor={false}
        legend={{ x: 95, y: 613, dy: 14, len: 25, lines: FULL_LINES }}
      />
      <Bode
        z={{ L: 467, T: 3, R: 748, B: 124 }} ph={{ L: 467, T: 124, R: 748, B: 245 }}
        zs={[A_Z_0h, A_Z_6h, A_Z_24h, A_Z_48h]} ps={[A_P_0h, A_P_6h, A_P_24h, A_P_48h]} xpad={5}
        legend={{ x: 702, y: 15, dy: 13.4, len: 24, lines: LIGHT_LINES }}
      />
      <Bode
        z={{ L: 463, T: 288, R: 746, B: 408 }} ph={{ L: 463, T: 408, R: 746, B: 528 }}
        zs={[B_Z_0h, B_Z_6h, B_Z_24h, B_Z_48h]} ps={[B_P_0h, B_P_6h, B_P_24h, B_P_48h]} xpad={3}
        legend={{ x: 692, y: 296, dy: 13.7, len: 21, lines: FULL_LINES }}
      />
      <Bode
        z={{ L: 461, T: 595, R: 739, B: 714 }} ph={{ L: 461, T: 714, R: 739, B: 834 }}
        zs={[C_Z_0h, C_Z_6h, C_Z_24h, C_Z_48h]} ps={[C_P_0h, C_P_6h, C_P_24h, C_P_48h]} xpad={7}
        legend={{ x: 690, y: 607, dy: 13, len: 22, lines: LIGHT_LINES }}
      />

      <PanelLabel x={-1} y={-2} t="(a)" />
      <PanelLabel x={8} y={288} t="(b)" />
      <PanelLabel x={12} y={598} t="(c)" />

      <Txt x={33} y={112} t={NQ_Y} fs={12} rot />
      <Txt x={232} y={258} t={NQ_X} fs={12} />
      <Txt x={35} y={432} t={NQ_Y} fs={12} rot />
      <Txt x={237} y={547} t={NQ_X} fs={12} />
      <Txt x={32} y={688} t={NQ_Y} fs={12} rot />
      <Txt x={232} y={848} t={NQ_X} fs={12} />

      <Txt x={442} y={65} t="Z(Ohm cm²)" fs={11} rot />
      <Txt x={442} y={191} t="-Phase (° )" fs={11} rot />
      <Txt x={608} y={264} t="Frequency (Hz)" fs={11.5} />
      <Txt x={443} y={350} t="Z(Ohm cm²)" fs={11} rot />
      <Txt x={443} y={467} t="-Phase (° )" fs={11} rot />
      <Txt x={607} y={551} t="Frequency (Hz)" fs={11.5} />
      <Txt x={427} y={657} t="Z(Ohm cm²)" fs={11} rot />
      <Txt x={427} y={773} t="-Phase (° )" fs={11} rot />
      <Txt x={596} y={853} t="Frequency (Hz)" fs={11.5} />
    </div>
  );
}
